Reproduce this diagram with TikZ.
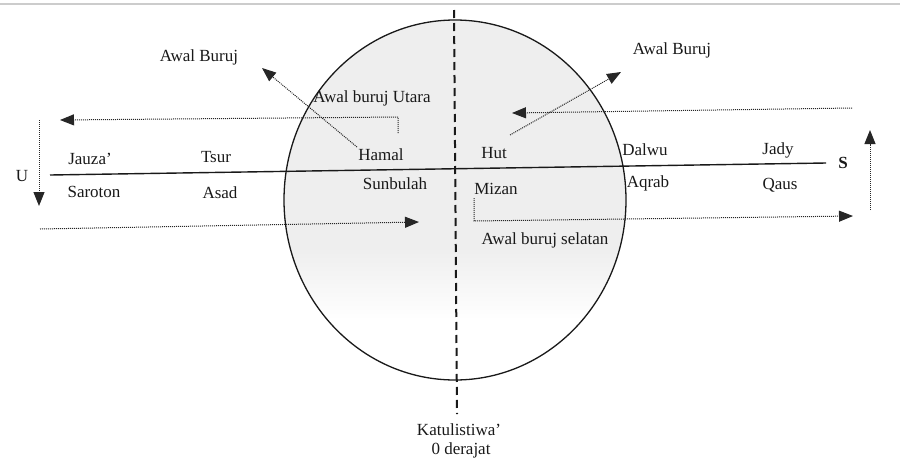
\documentclass[tikz,border=0pt]{standalone}
\usepackage{fontspec}
\setmainfont{Liberation Serif}
\usetikzlibrary{arrows.meta,shapes.geometric}
\begin{document}
\begin{tikzpicture}[x=1pt,y=-1pt,
  lbl/.style={font=\fontsize{17}{20}\selectfont, text=black!90, inner sep=0pt},
  dotarrow/.style={densely dotted, line width=1pt, draw=black!85, -{Triangle[length=14pt,width=11pt]}},
  mainline/.style={line width=1.4pt, draw=black!90},
  dashline/.style={line width=2pt, dash pattern=on 8pt off 5pt, draw=black!90}]
\useasboundingbox (0,0) rectangle (900,464);
% top border line
\draw[gray!40, line width=1.5pt] (0,4) -- (900,4);
% shaded globe
\begin{scope}
  \clip (455,200) ellipse [x radius=171, y radius=180];
  \fill[gray!13] (280,15) rectangle (630,250);
  \shade[top color=gray!13, bottom color=white] (280,249) rectangle (630,320);
\end{scope}
\node[draw=black!90, line width=1.3pt, ellipse, minimum width=342pt, minimum height=360pt, inner sep=0pt] (globe) at (455,200) {};
% equator (dashed) and horizontal line
\coordinate (eqtop) at (454,10);
\coordinate (eqbot) at (457,414);
\draw[dashline] (eqtop) -- (eqbot);
\coordinate (lw) at (50,175);
\coordinate (le) at (826,163);
\draw[mainline] (lw) -- (le);
% labels
\node[lbl] (U) at (22,176) {U};
\node[lbl, font=\fontsize{17}{20}\selectfont\bfseries] (S) at (843,163) {S};
\node[lbl] (jauza) at (90,159) {Jauza'};
\node[lbl] (tsur) at (216,157) {Tsur};
\node[lbl] (hamal) at (381,155) {Hamal};
\node[lbl] (hut) at (494,153) {Hut};
\node[lbl] (dalwu) at (645,150) {Dalwu};
\node[lbl] (jady) at (778,150) {Jady};
\node[lbl] (saroton) at (94,192) {Saroton};
\node[lbl] (asad) at (220,193) {Asad};
\node[lbl] (sunbulah) at (395,184) {Sunbulah};
\node[lbl] (mizan) at (496,189) {Mizan};
\node[lbl] (aqrab) at (648,183) {Aqrab};
\node[lbl] (qaus) at (780,185) {Qaus};
\node[lbl] (awalL) at (199,57) {Awal Buruj};
\node[lbl] (awalR) at (672,50) {Awal Buruj};
\node[lbl] (utara) at (372,98) {Awal buruj Utara};
\node[lbl] (selatan) at (545,240) {Awal buruj selatan};
\node[lbl] (katul) at (459,430) {Katulistiwa'};
\node[lbl] (derajat) at (461,450) {0 derajat};
% arrow coordinates
\coordinate (a1s) at (398,133);
\coordinate (a1c) at (398,117);
\coordinate (a1e) at (60,120);
\coordinate (hs) at (357,147);
\coordinate (he) at (262,68);
\coordinate (us) at (39,120);
\coordinate (ue) at (39,206);
\coordinate (bls) at (40,229);
\coordinate (ble) at (419,222);
\coordinate (huts) at (510,135);
\coordinate (hute) at (621,72);
\coordinate (trs) at (852,108);
\coordinate (tre) at (512,113);
\coordinate (ss) at (870,210);
\coordinate (se) at (870,130);
\coordinate (ms) at (474,198);
\coordinate (mc) at (474,221);
\coordinate (me) at (853,216);
% arrows
\draw[dotarrow] (a1s) -- (a1c) -- (a1e);
\draw[dotarrow] (hs) -- (he);
\draw[dotarrow] (us) -- (ue);
\draw[dotarrow] (bls) -- (ble);
\draw[dotarrow] (huts) -- (hute);
\draw[dotarrow] (trs) -- (tre);
\draw[dotarrow] (ss) -- (se);
\draw[dotarrow] (ms) -- (mc) -- (me);
\end{tikzpicture}
\end{document}
